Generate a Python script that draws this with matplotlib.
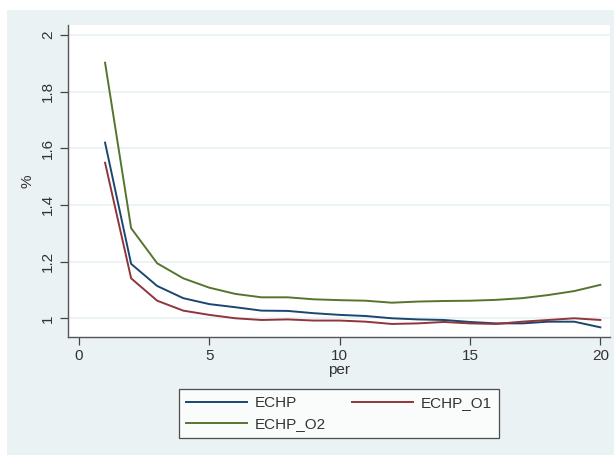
import matplotlib
matplotlib.use("Agg")
import matplotlib.pyplot as plt
from matplotlib.patches import Rectangle

plt.rcParams['font.family'] = ['Liberation Sans', 'DejaVu Sans']

per = list(range(1, 21))
echp = [1.620, 1.192, 1.114, 1.071, 1.050, 1.039, 1.027, 1.026, 1.018, 1.012,
        1.008, 1.000, 0.996, 0.994, 0.987, 0.982, 0.982, 0.988, 0.988, 0.968]
echp_o1 = [1.549, 1.141, 1.062, 1.027, 1.012, 1.000, 0.994, 0.996, 0.992, 0.992,
           0.988, 0.980, 0.982, 0.987, 0.982, 0.980, 0.988, 0.994, 1.000, 0.994]
echp_o2 = [1.902, 1.318, 1.194, 1.141, 1.108, 1.086, 1.074, 1.074, 1.067, 1.064,
           1.062, 1.055, 1.059, 1.061, 1.062, 1.065, 1.071, 1.082, 1.096, 1.118]

xticks = [0, 5, 10, 15, 20]
yticks = [1, 1.2, 1.4, 1.6, 1.8, 2]
ytick_labels = ["1", "1.2", "1.4", "1.6", "1.8", "2"]

W, H = 614, 455
fig = plt.figure(figsize=(W / 100, H / 100), dpi=100)
fig.patch.set_facecolor('white')
bg = '#EAF2F3'
fig.patches.append(Rectangle((7 / W, 0), 1 - 7 / W, 1 - 10 / H, transform=fig.transFigure,
                             facecolor=bg, edgecolor='none', zorder=-10))

left, right, top, bottom = 68.3, 610, 25, 336.7
ax = fig.add_axes([left / W, 1 - bottom / H, (right - left) / W, (bottom - top) / H])
ax.set_facecolor('white')

c_blue = '#1A476F'
c_red = '#90353B'
c_green = '#55752F'
l1, = ax.plot(per, echp, color=c_blue, lw=1.4, label='ECHP', zorder=3)
l2, = ax.plot(per, echp_o1, color=c_red, lw=1.4, label='ECHP_O1', zorder=3)
l3, = ax.plot(per, echp_o2, color=c_green, lw=1.4, label='ECHP_O2', zorder=3)

ax.set_xlim(-0.41, 20.37)
ax.set_ylim(0.935, 2.035)
ax.set_xticks(xticks)
ax.set_yticks(yticks)
ax.set_yticklabels(ytick_labels, rotation=90, va='center')
ax.grid(axis='y', color='#EAF2F3', lw=1.3, zorder=0)
ax.grid(axis='x', visible=False)

for s in ['top', 'right']:
    ax.spines[s].set_visible(False)
for s in ['left', 'bottom']:
    ax.spines[s].set_color('#555555')
    ax.spines[s].set_linewidth(1.0)
ax.tick_params(axis='both', direction='out', length=5.5, width=0.9, color='#444444',
               labelsize=11, labelcolor='#333333')
ax.tick_params(axis='x', pad=3)
ax.tick_params(axis='y', pad=4)

ax.set_xlabel('per', fontsize=11, color='#333333', labelpad=0)
ax.set_ylabel('%', fontsize=11, color='#333333', labelpad=5)

leg = fig.legend([l1, l3, l2], ['ECHP', 'ECHP_O2', 'ECHP_O1'], ncol=2,
                 loc='center', bbox_to_anchor=(339 / W, 1 - 413.5 / H),
                 frameon=True, fancybox=False, edgecolor='#222222', facecolor='white',
                 fontsize=11, handlelength=4.0, columnspacing=1.7, handletextpad=0.5,
                 labelspacing=0.45, borderpad=0.45, borderaxespad=0)
leg.get_frame().set_linewidth(0.9)
for t in leg.get_texts():
    t.set_color('#333333')

fig.savefig('out.png', dpi=100, facecolor=fig.get_facecolor())
